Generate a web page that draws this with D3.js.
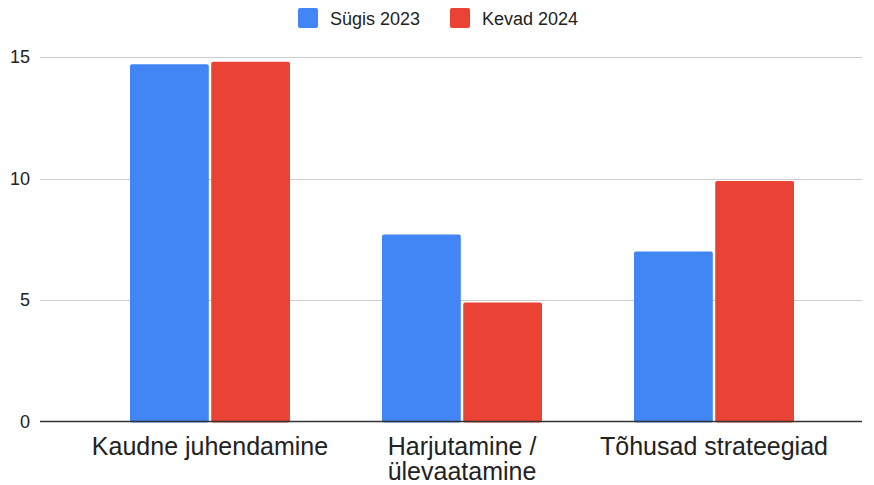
<!DOCTYPE html>
<html>
<head>
<meta charset="utf-8">
<script src="https://cdn.jsdelivr.net/npm/d3@7"></script>
<style>
	body { margin: 0; background: #fff; }
	svg { display: block; font-family: "Liberation Sans", Arial, sans-serif; }
</style>
</head>
<body>
<svg width="874" height="485"></svg>
<script>
var categories = [["Kaudne juhendamine"], ["Harjutamine /", "ülevaatamine"], ["Tõhusad strateegiad"]];
var seriesNames = ["Sügis 2023", "Kevad 2024"];
var sugis = [14.7, 7.7, 7.0];
var kevad = [14.8, 4.9, 9.9];
var yTicks = [0, 5, 10, 15];
var colors = ["#4285f4", "#ea4335"];

var svg = d3.select("svg"),
	plotLeft = 40, plotRight = 862, plotTop = 57, plotBottom = 421.5;

var catKeys = categories.map(function(c){ return c.join(" "); });

var x0 = d3.scaleBand().domain(catKeys).range([84, 840]).paddingInner(0.365).paddingOuter(0.1825);
var x1 = d3.scaleBand().domain(seriesNames).range([0, x0.bandwidth()]).paddingInner(0.03);
var y = d3.scaleLinear().domain([0, 15]).range([plotBottom, plotTop]);

// gridlines
svg.append("g").selectAll("line").data(yTicks.filter(function(t){ return t > 0; })).join("line")
	.attr("x1", plotLeft).attr("x2", plotRight)
	.attr("y1", function(d){ return Math.round(y(d)) + 0.5; })
	.attr("y2", function(d){ return Math.round(y(d)) + 0.5; })
	.attr("stroke", "#cccccc").attr("stroke-width", 1);

// y labels
svg.append("g").selectAll("text").data(yTicks).join("text")
	.attr("x", 30).attr("y", function(d){ return y(d) + 6; })
	.attr("text-anchor", "end").attr("font-size", 18).attr("fill", "#222")
	.text(function(d){ return d; });

// bars
var rows = catKeys.map(function(k, i){ return {key: k, vals: [sugis[i], kevad[i]]}; });
var groups = svg.append("g").selectAll("g").data(rows).join("g")
	.attr("transform", function(d){ return "translate(" + x0(d.key) + ",0)"; });
groups.selectAll("rect").data(function(d){ return d.vals.map(function(v, j){ return {name: seriesNames[j], v: v, j: j}; }); })
	.join("rect")
	.attr("x", function(d){ return x1(d.name); })
	.attr("y", function(d){ return y(d.v); })
	.attr("width", x1.bandwidth())
	.attr("height", function(d){ return plotBottom - y(d.v) + 1; })
	.attr("rx", 2)
	.attr("fill", function(d){ return colors[d.j]; });

// baseline
svg.append("line").attr("x1", plotLeft).attr("x2", plotRight)
	.attr("y1", plotBottom).attr("y2", plotBottom)
	.attr("stroke", "#333").attr("stroke-width", 1.5);

// x labels
var xl = svg.append("g").selectAll("text").data(categories).join("text")
	.attr("text-anchor", "middle")
	.attr("font-size", 25).attr("fill", "#222")
	.attr("transform", function(d, i){ return "translate(" + (x0(catKeys[i]) + x0.bandwidth() / 2) + ",455)"; });
xl.selectAll("tspan").data(function(d){ return d; }).join("tspan")
	.attr("x", 0).attr("dy", function(d, i){ return i ? 25 : 0; })
	.text(function(d){ return d; });

// legend
var legX = [298, 450];
var leg = svg.append("g").selectAll("g").data(seriesNames).join("g")
	.attr("transform", function(d, i){ return "translate(" + legX[i] + ",8)"; });
leg.append("rect").attr("width", 20).attr("height", 20).attr("rx", 2)
	.attr("fill", function(d, i){ return colors[i]; });
leg.append("text").attr("x", 32).attr("y", 17).attr("font-size", 18).attr("fill", "#222")
	.text(function(d){ return d; });
</script>
</body>
</html>
